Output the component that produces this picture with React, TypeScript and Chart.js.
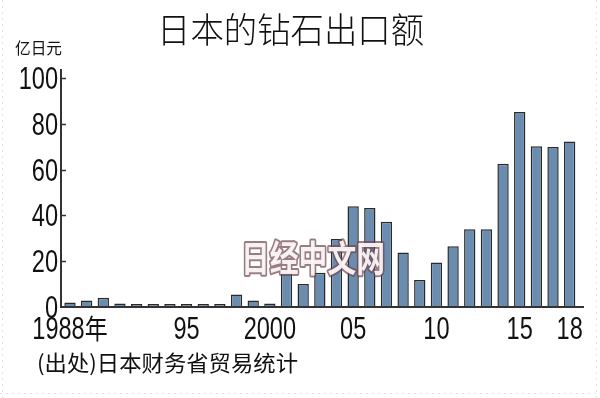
import React, { useEffect, useRef } from "react";
import { Chart, registerables } from "chart.js";

Chart.register(...registerables);

const years: number[] = [
  1988, 1989, 1990, 1991, 1992, 1993, 1994, 1995, 1996, 1997, 1998, 1999, 2000,
  2001, 2002, 2003, 2004, 2005, 2006, 2007, 2008, 2009, 2010, 2011, 2012, 2013,
  2014, 2015, 2016, 2017, 2018,
];
const exportsValues: number[] = [
  2, 2.8, 4, 1.5, 1.3, 1.3, 1.3, 1.3, 1.3, 1.3, 5.5, 2.8, 1.5,
  15, 10, 15, 29.7, 44, 43.3, 37.3, 23.8, 11.8, 19.5, 26.5, 34, 34,
  62.6, 85.2, 70.2, 69.9, 72.3,
];
const xTickYears: number[] = [1988, 1995, 2000, 2005, 2010, 2015, 2018];
const xTickLabels: string[] = ["1988年", "95", "2000", "05", "10", "15", "18"];
const yTickValues: number[] = [0, 20, 40, 60, 80, 100];

const titleText = "日本的钻石出口额";
const unitText = "亿日元";
const sourceText = "(出处)日本财务省贸易统计";
const watermarkText = "日经中文网";

const NUM_FONT = "'Liberation Sans', Arial, sans-serif";
const CJK_FONT = "'Noto Sans CJK SC', 'Noto Sans', sans-serif";
const SQUEEZE = 0.76;

function narrowText(ctx: any, text: string, x: number, y: number, align: string) {
  ctx.save();
  ctx.translate(x, y);
  ctx.scale(SQUEEZE, 1);
  ctx.textAlign = align;
  ctx.fillText(text, 0, 0);
  ctx.restore();
}

function fitText(ctx: any, text: string, left: number, right: number, y: number, stroke = false) {
  const w = ctx.measureText(text).width;
  const s = (right - left) / w;
  ctx.save();
  ctx.translate(left, y);
  ctx.scale(s, 1);
  ctx.textAlign = "left";
  if (stroke) ctx.strokeText(text, 0, 0);
  ctx.fillText(text, 0, 0);
  ctx.restore();
}

const overlayPlugin = {
  id: "overlay",
  afterDraw(chart: any) {
    const ctx = chart.ctx;
    const xs = chart.scales.x;
    const ys = chart.scales.y;
    ctx.save();
    // faint page border dots
    ctx.strokeStyle = "#e2e2e2";
    ctx.lineWidth = 1;
    ctx.setLineDash([2, 4]);
    ctx.beginPath();
    ctx.moveTo(596.5, 0);
    ctx.lineTo(596.5, 398);
    ctx.moveTo(2.5, 0);
    ctx.lineTo(2.5, 398);
    ctx.moveTo(0, 393.5);
    ctx.lineTo(600, 393.5);
    ctx.stroke();
    ctx.setLineDash([]);

    // y tick marks pointing right of axis
    ctx.strokeStyle = "#333";
    ctx.lineWidth = 1.5;
    for (const v of yTickValues) {
      if (v === 0) continue;
      const py = Math.round(ys.getPixelForValue(v)) + 0.5;
      ctx.beginPath();
      ctx.moveTo(xs.left, py);
      ctx.lineTo(xs.left + 5, py);
      ctx.stroke();
    }
    // axes lines
    ctx.strokeStyle = "#333";
    ctx.lineWidth = 2;
    ctx.beginPath();
    ctx.moveTo(xs.left, ys.top);
    ctx.lineTo(xs.left, ys.bottom);
    ctx.lineTo(xs.right, ys.bottom);
    ctx.stroke();

    // tick labels (condensed)
    ctx.fillStyle = "#111";
    ctx.textBaseline = "alphabetic";
    ctx.font = `31px ${NUM_FONT}`;
    for (const v of yTickValues) {
      const py = ys.getPixelForValue(v);
      narrowText(ctx, String(v), xs.left - 3, py + 11, "right");
    }
    xTickYears.forEach((yr, i) => {
      const px = xs.getPixelForValue(yr);
      const label = xTickLabels[i];
      if (label.endsWith("年")) {
        const num = label.slice(0, -1);
        ctx.font = `31px ${NUM_FONT}`;
        const wNum = ctx.measureText(num).width * SQUEEZE;
        ctx.font = `27px ${CJK_FONT}`;
        const wCh = ctx.measureText("年").width * 0.85;
        const total = wNum + wCh;
        const start = px - total / 2;
        ctx.font = `31px ${NUM_FONT}`;
        narrowText(ctx, num, start, 339, "left");
        ctx.save();
        ctx.font = `27px ${CJK_FONT}`;
        ctx.translate(start + wNum, 339);
        ctx.scale(0.85, 1);
        ctx.textAlign = "left";
        ctx.fillText("年", 0, 0);
        ctx.restore();
      } else {
        ctx.font = `31px ${NUM_FONT}`;
        narrowText(ctx, label, px, 339, "center");
      }
    });

    // title
    ctx.fillStyle = "#111";
    ctx.textBaseline = "middle";
    ctx.font = `300 35px ${CJK_FONT}`;
    fitText(ctx, titleText, 157, 424, 30);
    // unit
    ctx.textAlign = "left";
    ctx.font = `16px ${CJK_FONT}`;
    fitText(ctx, unitText, 15, 62, 48);
    // source
    ctx.font = `22px ${CJK_FONT}`;
    fitText(ctx, sourceText, 37, 298, 363);

    // watermark
    ctx.font = `bold 36px ${CJK_FONT}`;
    ctx.lineJoin = "round";
    ctx.strokeStyle = "rgba(110,70,80,0.7)";
    ctx.lineWidth = 4;
    ctx.fillStyle = "rgba(255,250,250,0.92)";
    fitText(ctx, watermarkText, 241, 385, 258, true);
    ctx.restore();
  },
};

export default function App() {
  const ref = useRef<HTMLCanvasElement | null>(null);
  useEffect(() => {
    document.body.style.margin = "0";
    const canvas = ref.current;
    if (!canvas) return;
    const chart = new Chart(canvas, {
      type: "bar",
      data: {
        datasets: [
          {
            data: years.map((y, i) => ({ x: y, y: exportsValues[i] })),
            backgroundColor: "#6a8cae",
            borderColor: "#2a2a2a",
            borderWidth: 1.5,
            categoryPercentage: 1,
            barPercentage: 0.68,
          },
        ],
      },
      options: {
        responsive: false,
        animation: false,
        devicePixelRatio: 1,
        layout: { padding: { left: 0, right: 16, top: 69, bottom: 0 } },
        plugins: {
          legend: { display: false },
          tooltip: { enabled: false },
          title: { display: false },
        },
        scales: {
          x: {
            type: "linear",
            offset: false,
            min: 1987.46,
            max: 2018.86,
            grid: { display: false, drawTicks: false },
            border: { display: false },
            afterBuildTicks: (scale: any) => {
              scale.ticks = xTickYears.map((v) => ({ value: v }));
            },
            afterFit: (scale: any) => {
              scale.height = 91;
            },
            ticks: { display: false },
          },
          y: {
            min: 0,
            max: 104,
            grid: { display: false, drawTicks: false },
            border: { display: false },
            afterBuildTicks: (scale: any) => {
              scale.ticks = yTickValues.map((v) => ({ value: v }));
            },
            afterFit: (scale: any) => {
              scale.width = 61;
            },
            ticks: { display: false },
          },
        },
      },
      plugins: [overlayPlugin],
    } as any);
    return () => chart.destroy();
  }, []);
  return (
    <div style={{ position: "fixed", left: 0, top: 0, width: 600, height: 398, background: "#fff" }}>
      <canvas ref={ref} width={600} height={398} style={{ width: 600, height: 398 }} />
    </div>
  );
}
